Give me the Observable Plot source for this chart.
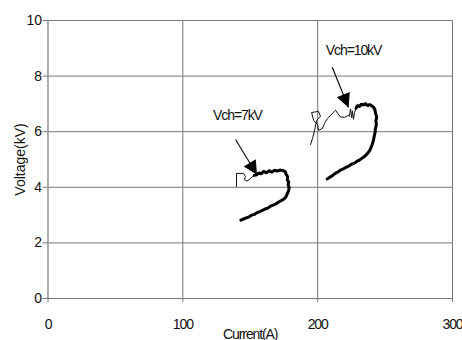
<!DOCTYPE html>
<html>
<head>
<meta charset="utf-8">
<script src="https://cdn.jsdelivr.net/npm/d3@7"></script>
<script src="https://cdn.jsdelivr.net/npm/@observablehq/plot@0.6"></script>
<style>
  html, body { margin: 0; padding: 0; background: #fff; }
  #chart { width: 462px; height: 340px; }
  #chart svg [aria-label="x-axis tick label"],
  #chart svg [aria-label="x-axis label"],
  #chart svg [aria-label="text"] { letter-spacing: -1.1px; }
</style>
</head>
<body>
<div id="chart"></div>
<script>
// ---- data ----
const xTicks = [0, 100, 200, 300];
const yTicks = [0, 2, 4, 6, 8, 10];

// Vch = 7kV trace: thick main part [current A, voltage kV]
const trace7Main = [
  [143,2.82],[145,2.86],[147,2.90],[149,2.93],[151,3.00],[153,3.02],[155,3.09],[157,3.12],
  [159,3.17],[161,3.22],[163,3.25],[165,3.32],[167,3.36],[169,3.40],[171,3.47],[173,3.52],
  [175,3.58],[176.5,3.66],[177.5,3.77],[178.5,3.88],[178.8,4.00],[178,4.10],[178.6,4.18],
  [177.4,4.28],[177.8,4.38],[176.5,4.47],[176.2,4.55],[174.5,4.60],[172,4.62],[170,4.58],
  [168,4.62],[166,4.54],[164,4.60],[162,4.52],[160,4.57],[158,4.48],[156.5,4.52],[155,4.45],[153,4.43]
];
// Vch = 7kV trace: thin initial part
const trace7Thin = [
  [153,4.43],[150.2,4.32],[147.5,4.22],[145.5,4.28],[146.5,4.38],[145,4.50],[139.8,4.50],[139.8,4.03]
];
// Vch = 10kV trace: thick main part
const trace10Main = [
  [207,4.30],[209,4.36],[211,4.42],[213,4.50],[215,4.55],[217,4.62],[219,4.66],[221,4.72],
  [223,4.76],[225,4.83],[227,4.86],[229,4.93],[231,4.98],[233,5.05],[235,5.12],[237,5.22],
  [238.5,5.32],[239.5,5.42],[240.5,5.55],[241.3,5.68],[241.8,5.80],[242.5,5.95],[242.8,6.10],
  [243.5,6.25],[243.2,6.40],[243.8,6.52],[243,6.65],[242.5,6.78],[241.5,6.88],[240,6.93],
  [238.5,6.98],[237,6.93],[235.5,7.02],[234,6.95],[232.5,7.00],[231,6.90],[229.5,6.95],[228.5,6.85]
];
// Vch = 10kV trace: thin initial part
const trace10Thin = [
  [228.5,6.85],[227.4,6.69],[226.5,6.45],[225.8,6.75],[225.2,6.50],[224.4,6.82],[223.5,6.55],
  [222.9,6.59],[220,6.52],[217,6.53],[214.8,6.66],[213.3,6.77],[211.8,6.70],[209.6,6.59],
  [207.1,6.47],[205.1,6.30],[203.6,6.12],[200.6,6.05],[199.9,6.26],[197,6.41],[195.5,6.69],
  [200.6,6.73],[202.1,6.55],[199.2,6.41],[197.7,6.05],[196.2,5.76],[194.7,5.54]
];

// annotations
const labels = ["Vch=7kV", "Vch=10kV"];
const labelX = [140.5, 226.6];
const labelY = [6.59, 8.92];
const arrowX1 = [139.1, 210.8];
const arrowY1 = [5.72, 8.32];
const arrowX2 = [155.0, 222.9];
const arrowY2 = [4.45, 6.87];
const arrowAngle = [149, 158];

const annotations = labels.map((t, i) => ({
  text: t, lx: labelX[i], ly: labelY[i],
  x1: arrowX1[i], y1: arrowY1[i], x2: arrowX2[i], y2: arrowY2[i], rot: arrowAngle[i]
}));

const gridColor = "#777";
const regular = "'Liberation Sans', Arial, sans-serif";

const toPts = arr => arr.map(([x, y]) => ({x, y}));

const chart = Plot.plot({
  width: 462,
  height: 340,
  marginLeft: 47.5,
  marginRight: 10,
  marginTop: 20,
  marginBottom: 42,
  style: { fontFamily: regular, fontSize: "14px", color: "#111", background: "#fff", overflow: "visible" },
  x: { domain: [0, 300] },
  y: { domain: [0, 10] },
  marks: [
    Plot.gridX(xTicks.filter(d => d > 0), { stroke: gridColor, strokeOpacity: 1, strokeWidth: 1 }),
    Plot.gridY(yTicks.filter(d => d > 0), { stroke: gridColor, strokeOpacity: 1, strokeWidth: 1 }),
    Plot.ruleX([0], { stroke: "#999", strokeWidth: 1.6 }),
    Plot.ruleY([0], { stroke: gridColor, strokeWidth: 1.2 }),
    Plot.axisX(xTicks, { tickSize: 4, tickPadding: 17, stroke: gridColor, fontSize: 14,
      label: "Current(A)", labelAnchor: "center", labelOffset: 40, labelArrow: "none" }),
    Plot.axisY(yTicks, { tickSize: 5, tickPadding: 1, stroke: gridColor, fontSize: 14,
      label: "Voltage(kV)", labelAnchor: "center", labelOffset: 33, labelArrow: "none" }),
    Plot.line(toPts(trace7Thin), { x: "x", y: "y", stroke: "#111", strokeWidth: 1, curve: "linear" }),
    Plot.line(toPts(trace10Thin), { x: "x", y: "y", stroke: "#111", strokeWidth: 1, curve: "linear" }),
    Plot.line(toPts(trace7Main), { x: "x", y: "y", stroke: "#000", strokeWidth: 3, strokeLinejoin: "miter" }),
    Plot.line(toPts(trace10Main), { x: "x", y: "y", stroke: "#000", strokeWidth: 3, strokeLinejoin: "miter" }),
    Plot.link(annotations, { x1: "x1", y1: "y1", x2: "x2", y2: "y2", stroke: "#111", strokeWidth: 1.2 }),
    Plot.vector(annotations, { x: "x2", y: "y2", rotate: "rot", length: 14, r: 7, shape: "spike", anchor: "end", fill: "#000", stroke: "none" }),
    Plot.text(annotations, { x: "lx", y: "ly", text: "text", fontSize: 14, fill: "#111" })
  ]
});
document.getElementById("chart").appendChild(chart);
</script>
</body>
</html>
